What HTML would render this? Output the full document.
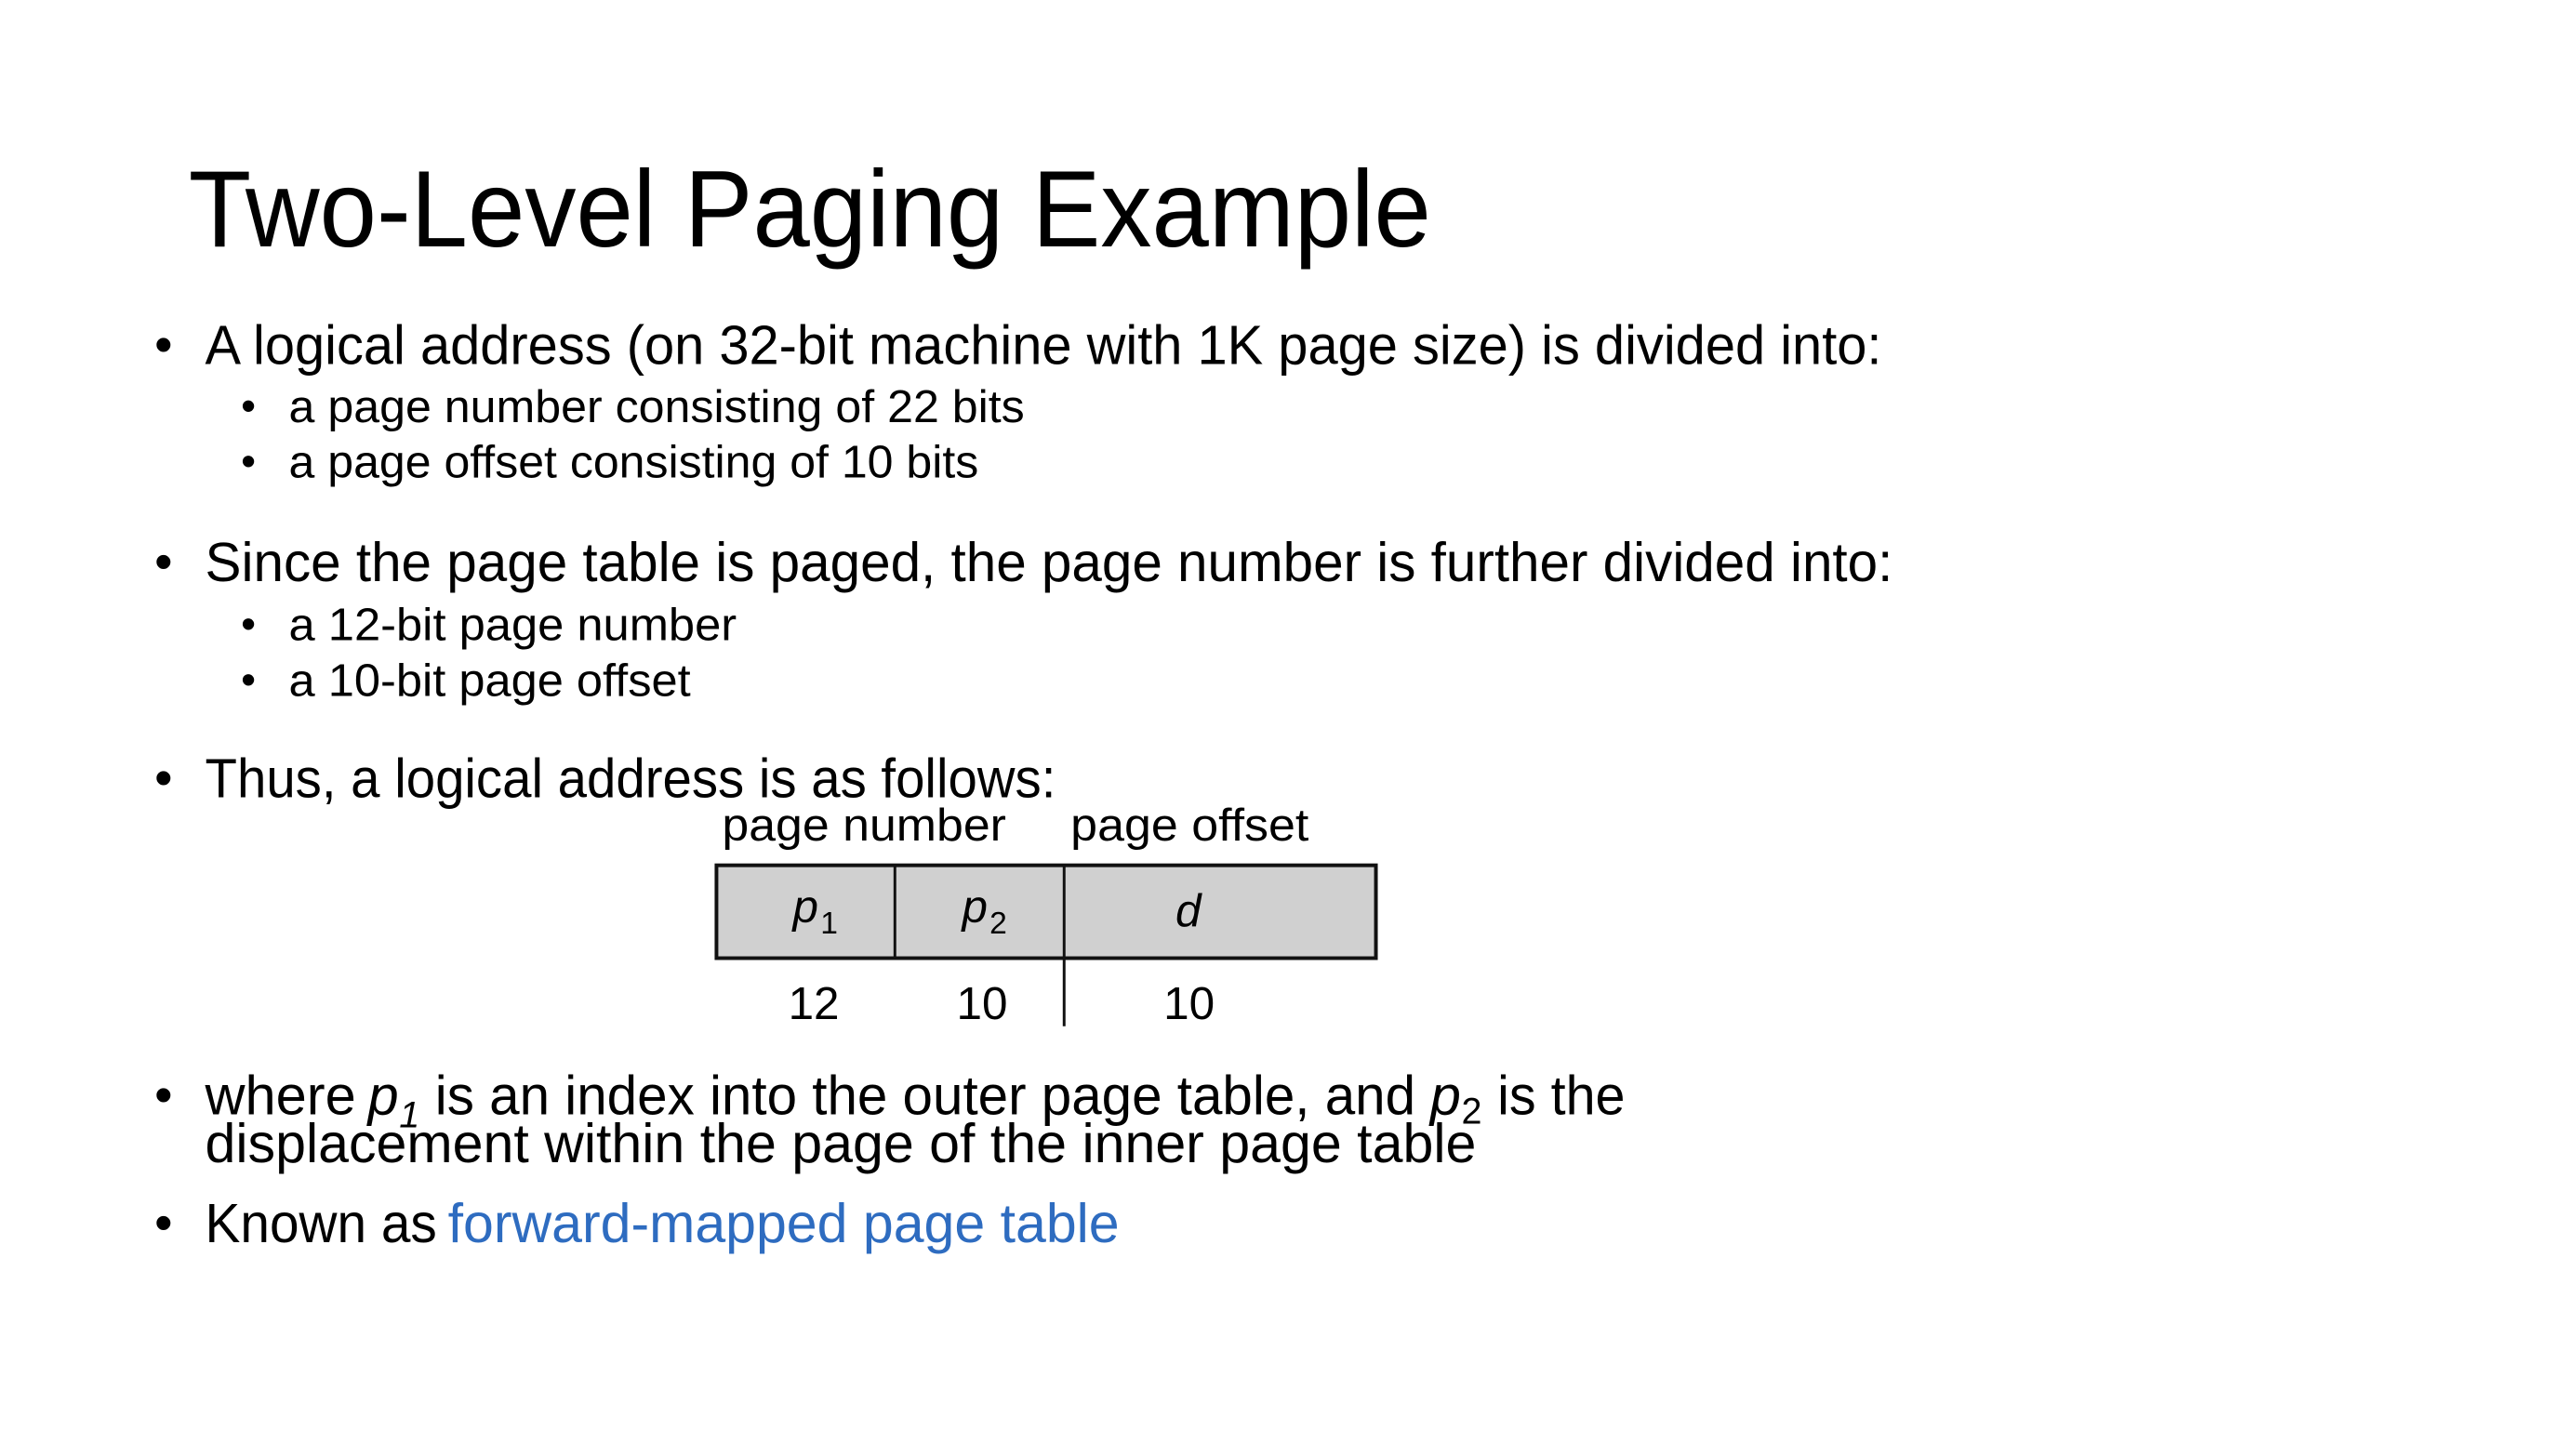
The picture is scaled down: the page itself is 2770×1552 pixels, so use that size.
<!DOCTYPE html>
<html><head><meta charset="utf-8"><style>
html,body{margin:0;padding:0;background:#fff;}
svg{display:block;}
text{font-family:"Liberation Sans",sans-serif;fill:#000;}
</style></head><body>
<svg width="2770" height="1552" viewBox="0 0 2770 1552" xmlns="http://www.w3.org/2000/svg">
<g transform="scale(0.989)">
<text x="205" y="268" font-size="118" textLength="1351" lengthAdjust="spacingAndGlyphs">Two-Level Paging Example</text>

<text x="168" y="394" font-size="56">•</text>
<text x="223" y="396" font-size="60" textLength="1823" lengthAdjust="spacingAndGlyphs">A logical address (on 32-bit machine with 1K page size) is divided into:</text>
<text x="262" y="457" font-size="46">•</text>
<text x="314" y="459" font-size="50" textLength="800" lengthAdjust="spacingAndGlyphs">a page number consisting of 22 bits</text>
<text x="262" y="517" font-size="46">•</text>
<text x="314" y="519" font-size="50" textLength="750" lengthAdjust="spacingAndGlyphs">a page offset consisting of 10 bits</text>

<text x="168" y="630" font-size="56">•</text>
<text x="223" y="632" font-size="60" textLength="1835" lengthAdjust="spacingAndGlyphs">Since the page table is paged, the page number is further divided into:</text>
<text x="262" y="694" font-size="46">•</text>
<text x="314" y="696" font-size="50" textLength="487" lengthAdjust="spacingAndGlyphs">a 12-bit page number</text>
<text x="262" y="755" font-size="46">•</text>
<text x="314" y="757" font-size="50" textLength="437" lengthAdjust="spacingAndGlyphs">a 10-bit page offset</text>

<text x="168" y="865" font-size="56">•</text>
<text x="223" y="867" font-size="60" textLength="925" lengthAdjust="spacingAndGlyphs">Thus, a logical address is as follows:</text>

<text x="785" y="914" font-size="50" fill="#111" textLength="309" lengthAdjust="spacingAndGlyphs">page number</text>
<text x="1164" y="914" font-size="50" fill="#111" textLength="259" lengthAdjust="spacingAndGlyphs">page offset</text>
<rect x="779" y="941" width="717" height="101" fill="#d0d0d0" stroke="#111" stroke-width="4"/>
<line x1="973" y1="941" x2="973" y2="1042" stroke="#111" stroke-width="3"/>
<line x1="1157" y1="941" x2="1157" y2="1116" stroke="#111" stroke-width="3"/>
<text x="862" y="1003" font-size="50" font-style="italic" fill="#222">p</text>
<text x="892" y="1015" font-size="34" fill="#222">1</text>
<text x="1046" y="1003" font-size="50" font-style="italic" fill="#222">p</text>
<text x="1076" y="1015" font-size="34" fill="#222">2</text>
<text x="1278" y="1007" font-size="50" font-style="italic" fill="#222">d</text>
<text x="857" y="1108" font-size="50" fill="#222">12</text>
<text x="1040" y="1108" font-size="50" fill="#222">10</text>
<text x="1265" y="1108" font-size="50" fill="#222">10</text>

<text x="168" y="1210" font-size="56">•</text>
<text x="223" y="1212" font-size="60" textLength="164" lengthAdjust="spacingAndGlyphs">where</text>
<text x="400" y="1212" font-size="60" font-style="italic">p</text>
<text x="434" y="1226" font-size="40" font-style="italic">1</text>
<text x="473" y="1212" font-size="60" textLength="1066" lengthAdjust="spacingAndGlyphs">is an index into the outer page table, and</text>
<text x="1555" y="1212" font-size="60" font-style="italic">p</text>
<text x="1589" y="1222" font-size="40">2</text>
<text x="1628" y="1212" font-size="60" textLength="139" lengthAdjust="spacingAndGlyphs">is the</text>
<text x="223" y="1264" font-size="60" textLength="1382" lengthAdjust="spacingAndGlyphs">displacement within the page of the inner page table</text>

<text x="168" y="1349" font-size="56">•</text>
<text x="223" y="1351" font-size="60" textLength="252" lengthAdjust="spacingAndGlyphs">Known as</text>
<text x="487" y="1351" font-size="60" style="fill:#2e6cc0" textLength="730" lengthAdjust="spacingAndGlyphs">forward-mapped page table</text>
</g>
</svg>
</body></html>
